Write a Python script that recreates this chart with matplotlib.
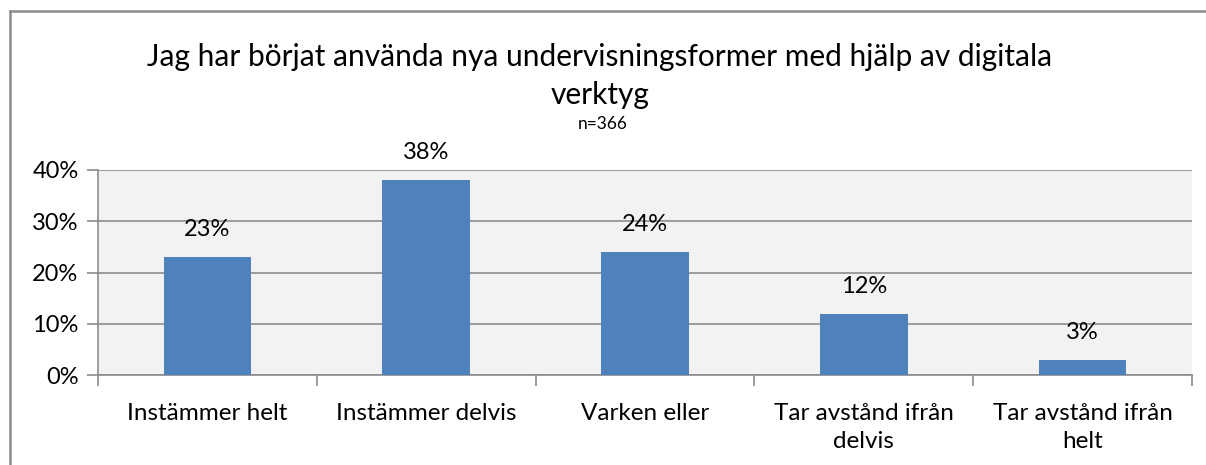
import matplotlib.pyplot as plt
from matplotlib.lines import Line2D
from matplotlib.ticker import MultipleLocator, PercentFormatter

categories = ["Instämmer helt", "Instämmer delvis", "Varken eller",
              "Tar avstånd ifrån\ndelvis", "Tar avstånd ifrån\nhelt"]
values = [23, 38, 24, 12, 3]
bar_labels = ["23%", "38%", "24%", "12%", "3%"]

plt.rcParams["font.family"] = ["Lato", "DejaVu Sans"]

W, H = 1206, 465
fig = plt.figure(figsize=(W / 100, H / 100), dpi=100)

# outer chart frame (only top and left edges are visible)
frame = "#8c8c8c"
fig.lines.append(Line2D([9.5 / W, 9.5 / W], [0, 1 - 11 / H], transform=fig.transFigure,
                        color=frame, linewidth=1.8))
fig.lines.append(Line2D([9.5 / W, 1], [1 - 11 / H, 1 - 11 / H], transform=fig.transFigure,
                        color=frame, linewidth=1.8))

ax = fig.add_axes([98 / W, 1 - 375 / H, (1192 - 98) / W, (375 - 170) / H])
ax.set_facecolor("#f2f2f2")

x = range(len(categories))
ax.bar(x, values, width=0.4, color="#4f81bd", zorder=3)
for xi, v, lab in zip(x, values, bar_labels):
    ax.text(xi, v + 3.3, lab, ha="center", va="bottom", fontsize=17, color="black")

ax.set_xlim(-0.5, len(categories) - 0.5)
ax.set_ylim(0, 40)
ax.yaxis.set_major_locator(MultipleLocator(10))
ax.yaxis.set_major_formatter(PercentFormatter(decimals=0))
ax.grid(axis="y", color="#8c8c8c", linewidth=1.2, zorder=1)

ax.set_xticks(x)
ax.set_xticklabels(categories, fontsize=17.5, linespacing=1.45)
ax.set_xticks([i + 0.5 for i in range(-1, len(categories))], minor=True)
ax.tick_params(axis="x", which="major", length=0, pad=20)
ax.tick_params(axis="x", which="minor", length=8, color="#8c8c8c", width=1.2)
ax.tick_params(axis="y", length=8, color="#8c8c8c", width=1.2, labelsize=17, pad=6)

for side in ["top", "right"]:
    ax.spines[side].set_visible(False)
for side in ["left", "bottom"]:
    ax.spines[side].set_color("#8c8c8c")
    ax.spines[side].set_linewidth(1.2)

fig.text(600 / W, 1 - 57 / H, "Jag har börjat använda nya undervisningsformer med hjälp av digitala",
         ha="center", va="center", fontsize=21.5)
fig.text(600 / W, 1 - 95 / H, "verktyg", ha="center", va="center", fontsize=21.5)
fig.text(603 / W, 1 - 124 / H, "n=366", ha="center", va="center", fontsize=12.5)

fig.savefig("out.png", dpi=100)
